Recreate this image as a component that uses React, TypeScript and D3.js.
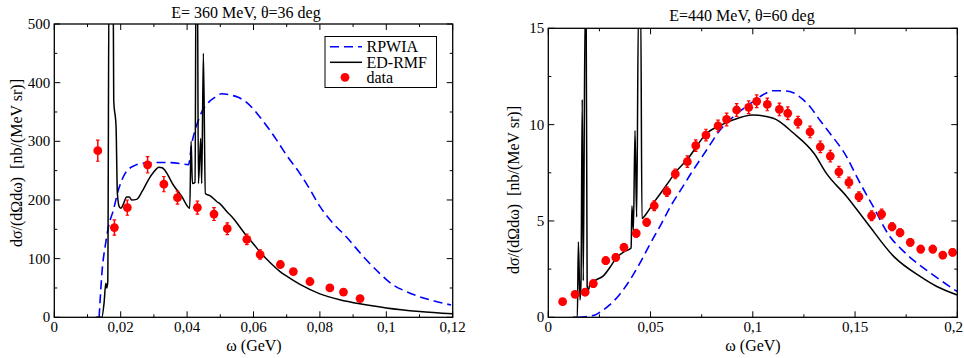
import React from "react";
import * as d3 from "d3";

// ---------- Data ----------
const leftTitle = "E= 360 MeV, θ=36 deg";
const rightTitle = "E=440 MeV, θ=60 deg";
const xLabel = "ω (GeV)";
const yLabel = "dσ/(dΩdω)  [nb/(MeV sr)]";
const legendLabels = ["RPWIA", "ED-RMF", "data"];

const leftXTicks = [0, 0.02, 0.04, 0.06, 0.08, 0.1, 0.12];
const leftXTickLabels = ["0", "0,02", "0,04", "0,06", "0,08", "0,1", "0,12"];
const leftXMinor = [0.01, 0.03, 0.05, 0.07, 0.09, 0.11];
const leftYTicks = [0, 100, 200, 300, 400, 500];
const leftYTickLabels = ["0", "100", "200", "300", "400", "500"];
const leftYMinor = [50, 150, 250, 350, 450];

const rightXTicks = [0, 0.05, 0.1, 0.15, 0.2];
const rightXTickLabels = ["0", "0,05", "0,1", "0,15", "0,2"];
const rightXMinor = [0.025, 0.075, 0.125, 0.175];
const rightYTicks = [0, 5, 10, 15];
const rightYTickLabels = ["0", "5", "10", "15"];
const rightYMinor = [2.5, 7.5, 12.5];

// left panel: RPWIA [omega, value]
const leftRPWIA: [number, number][] = [
  [0.0135, 0], [0.0145, 86], [0.0153, 120], [0.0163, 154], [0.0178, 183], [0.0193, 217],
  [0.0213, 245], [0.0243, 259], [0.0273, 263], [0.0333, 264], [0.038, 262], [0.0404, 260],
  [0.0414, 296], [0.0424, 319], [0.0434, 336], [0.0444, 350], [0.0464, 366], [0.0484, 375],
  [0.0504, 381], [0.053, 379], [0.0554, 375], [0.058, 366], [0.061, 348], [0.064, 326],
  [0.067, 302], [0.07, 276], [0.074, 245], [0.077, 218], [0.08, 189], [0.084, 160],
  [0.088, 137], [0.093, 104], [0.098, 75], [0.1021, 55], [0.106, 44], [0.11, 35],
  [0.115, 27], [0.1195, 21],
];

// left panel: ED-RMF
const leftEDRMF: [number, number][] = [
  [0.0125, 0], [0.0143, 0], [0.015, 25], [0.0155, 58], [0.0158, 50], [0.0161, 60],
  [0.0165, 600], [0.017, 600], [0.0177, 600], [0.0179, 370], [0.0186, 325], [0.019, 211],
  [0.0196, 188], [0.0201, 186], [0.0208, 193], [0.0218, 205], [0.0226, 205], [0.0233, 200],
  [0.0248, 201], [0.0265, 215], [0.0283, 234], [0.03, 248], [0.0315, 256], [0.0325, 255],
  [0.0334, 250], [0.0358, 226], [0.0384, 206], [0.0408, 186], [0.0412, 300], [0.0416, 228],
  [0.0424, 230], [0.0427, 600], [0.0431, 600], [0.0434, 228], [0.0441, 305], [0.0444, 228],
  [0.0449, 450], [0.0455, 211], [0.047, 207], [0.049, 197], [0.05, 193], [0.052, 180],
  [0.054, 168], [0.056, 153], [0.058, 138], [0.06, 125], [0.062, 111], [0.064, 99],
  [0.066, 88], [0.068, 78], [0.07, 70], [0.074, 56], [0.08, 40], [0.086, 30],
  [0.092, 23], [0.1, 16], [0.11, 10], [0.12, 6],
];

const leftDataX = [0.0131, 0.0181, 0.022, 0.0281, 0.033, 0.0371, 0.0431, 0.0481, 0.0521, 0.058, 0.062, 0.0681, 0.072, 0.077, 0.083, 0.0871, 0.0921];
const leftDataY = [284, 153, 187, 260, 227, 204, 187, 176, 151, 133, 107, 90, 78, 61, 50, 43, 32];
const leftDataErr = [18, 13, 13, 14, 13, 11, 11, 11, 10, 9, 8, 6, 5, 4, 4, 4, 4];

// right panel: RPWIA
const rightRPWIA: [number, number][] = [
  [0.0145, 0], [0.018, 0.03], [0.0228, 0.12], [0.025, 0.25], [0.03, 0.64], [0.035, 1.2],
  [0.04, 1.95], [0.045, 2.85], [0.05, 3.85], [0.055, 4.8], [0.06, 5.8], [0.065, 6.65],
  [0.07, 7.5], [0.0774, 8.68], [0.084, 9.72], [0.0905, 10.41], [0.1002, 11.19], [0.105, 11.55],
  [0.11, 11.76], [0.116, 11.75], [0.1198, 11.66], [0.124, 11.35], [0.128, 10.93], [0.133, 10.2],
  [0.1377, 9.55], [0.1459, 8.33], [0.1508, 7.3], [0.1589, 5.74], [0.1671, 4.18], [0.1725, 3.55],
  [0.1785, 2.97], [0.1883, 2.19], [0.2, 1.33],
];

// right panel: ED-RMF
const rightEDRMF: [number, number][] = [
  [0.012, 0], [0.0142, 0], [0.0147, 3.92], [0.0155, 0.9], [0.016, 1.9], [0.0166, 11.3],
  [0.0171, 1.9], [0.018, 16], [0.0185, 16], [0.019, 1.6], [0.0196, 1.4], [0.0204, 1.75],
  [0.0235, 1.95], [0.0269, 2.15], [0.0302, 2.6], [0.0334, 3.1], [0.037, 3.4], [0.0405, 3.6],
  [0.0409, 5.78], [0.0416, 4.5], [0.0424, 9.7], [0.0432, 5.2], [0.0441, 16], [0.0452, 16],
  [0.0458, 5.14], [0.0481, 5.4], [0.0513, 5.91], [0.055, 6.45], [0.0595, 7.12], [0.062, 7.5],
  [0.068, 8.2], [0.0775, 9.55], [0.085, 10.0], [0.0905, 10.25], [0.1, 10.5], [0.11, 10.33],
  [0.12, 9.55], [0.13, 8.5], [0.136, 7.47], [0.146, 6.26], [0.156, 4.88], [0.169, 3.15],
  [0.182, 2.11], [0.19, 1.6], [0.2, 1.16],
];

const rightDataX = [0.007, 0.0131, 0.018, 0.022, 0.0281, 0.033, 0.037, 0.043, 0.0481, 0.0518, 0.058, 0.0621, 0.068, 0.0721, 0.0771, 0.083, 0.0872, 0.0921, 0.098, 0.1019, 0.1071, 0.113, 0.1171, 0.1221, 0.128, 0.133, 0.1379, 0.1421, 0.147, 0.1519, 0.1581, 0.163, 0.1681, 0.172, 0.177, 0.1821, 0.188, 0.1929, 0.1977];
const rightDataY = [0.81, 1.19, 1.3, 1.75, 2.94, 3.11, 3.63, 4.36, 4.93, 5.79, 6.52, 7.44, 8.08, 8.91, 9.46, 9.93, 10.27, 10.76, 10.9, 11.21, 11.05, 10.79, 10.59, 10.13, 9.62, 8.85, 8.37, 7.55, 7.0, 6.26, 5.27, 5.36, 4.7, 4.39, 3.89, 3.54, 3.54, 3.23, 3.37];
const rightDataErr = [0.15, 0.15, 0.15, 0.2, 0.2, 0.2, 0.2, 0.2, 0.2, 0.25, 0.25, 0.25, 0.3, 0.3, 0.3, 0.3, 0.33, 0.33, 0.33, 0.33, 0.33, 0.33, 0.33, 0.3, 0.3, 0.3, 0.3, 0.28, 0.28, 0.25, 0.25, 0.25, 0.2, 0.2, 0.2, 0.2, 0.2, 0.18, 0.18];

// ---------- Drawing ----------
const FONT = "Liberation Serif, DejaVu Serif, Times New Roman, serif";
const BLUE = "#0000ff";
const RED = "#ff0000";

type PanelProps = {
  id: string;
  x0: number; x1: number; y0: number; y1: number;
  xDomain: [number, number]; yDomain: [number, number];
  xTicks: number[]; xTickLabels: string[]; xMinor: number[];
  yTicks: number[]; yTickLabels: string[]; yMinor: number[];
  rpwia: [number, number][]; edrmf: [number, number][];
  dx: number[]; dy: number[]; de: number[];
  title: string; titleX: number; titleY: number;
  yLabelX: number; yLabelY: number;
  xLabelX: number;
  legend?: boolean;
};

function Panel(p: PanelProps) {
  const xs = d3.scaleLinear().domain(p.xDomain).range([p.x0, p.x1]);
  const ys = d3.scaleLinear().domain(p.yDomain).range([p.y1, p.y0]);
  const line = d3.line<[number, number]>().x(d => xs(d[0])).y(d => ys(d[1])).curve(d3.curveMonotoneX);
  const major = 6, minor = 3;
  const txt = { fontFamily: FONT };
  return (
    <g>
      <defs>
        <clipPath id={p.id}>
          <rect x={p.x0} y={p.y0} width={p.x1 - p.x0} height={p.y1 - p.y0} />
        </clipPath>
      </defs>
      <g clipPath={`url(#${p.id})`}>
        <path d={line(p.rpwia) || ""} fill="none" stroke={BLUE} strokeWidth={1.6} strokeDasharray="9,5" />
        <path d={line(p.edrmf) || ""} fill="none" stroke="#000" strokeWidth={1.5} strokeLinejoin="round" />
        {p.dx.map((xv, i) => {
          const cx = xs(xv), cy = ys(p.dy[i]);
          const yt = ys(p.dy[i] + p.de[i]), yb = ys(p.dy[i] - p.de[i]);
          return (
            <g key={i}>
              <line x1={cx} x2={cx} y1={yt} y2={yb} stroke={RED} strokeWidth={1.5} />
              <line x1={cx - 1.8} x2={cx + 1.8} y1={yt} y2={yt} stroke={RED} strokeWidth={1.2} />
              <line x1={cx - 1.8} x2={cx + 1.8} y1={yb} y2={yb} stroke={RED} strokeWidth={1.2} />
              <circle cx={cx} cy={cy} r={4.4} fill={RED} />
            </g>
          );
        })}
      </g>
      {p.xTicks.map((t, i) => {
        const last = xs(t) + 12 > 964;
        return (
          <g key={"xt" + i}>
            <line x1={xs(t)} x2={xs(t)} y1={p.y1} y2={p.y1 - major} stroke="#000" />
            <line x1={xs(t)} x2={xs(t)} y1={p.y0} y2={p.y0 + major} stroke="#000" />
            <text x={last ? 963 : xs(t)} y={p.y1 + 15} textAnchor={last ? "end" : "middle"} fontSize={15} style={txt}>{p.xTickLabels[i]}</text>
          </g>
        );
      })}
      {p.xMinor.map((t, i) => (
        <g key={"xm" + i}>
          <line x1={xs(t)} x2={xs(t)} y1={p.y1} y2={p.y1 - minor} stroke="#000" />
          <line x1={xs(t)} x2={xs(t)} y1={p.y0} y2={p.y0 + minor} stroke="#000" />
        </g>
      ))}
      {p.yTicks.map((t, i) => (
        <g key={"yt" + i}>
          <line x1={p.x0} x2={p.x0 + major} y1={ys(t)} y2={ys(t)} stroke="#000" />
          <line x1={p.x1} x2={p.x1 - major} y1={ys(t)} y2={ys(t)} stroke="#000" />
          <text x={p.x0 - 4} y={ys(t) + 5} textAnchor="end" fontSize={15} style={txt}>{p.yTickLabels[i]}</text>
        </g>
      ))}
      {p.yMinor.map((t, i) => (
        <g key={"ym" + i}>
          <line x1={p.x0} x2={p.x0 + minor} y1={ys(t)} y2={ys(t)} stroke="#000" />
          <line x1={p.x1} x2={p.x1 - minor} y1={ys(t)} y2={ys(t)} stroke="#000" />
        </g>
      ))}
      <rect x={p.x0} y={p.y0} width={p.x1 - p.x0} height={p.y1 - p.y0} fill="none" stroke="#000" strokeWidth={1.3} />
      <text x={p.titleX} y={p.titleY} textAnchor="middle" fontSize={16} style={txt}>{p.title}</text>
      <text x={p.xLabelX} y={351} textAnchor="middle" fontSize={16} style={txt}>{xLabel}</text>
      <text transform={`translate(${p.yLabelX},${p.yLabelY}) rotate(-90)`} textAnchor="middle" fontSize={16} style={{ ...txt, whiteSpace: "pre" }}>{yLabel}</text>
      {p.legend && (
        <g fontSize={16} style={txt}>
          <rect x={325} y={36.5} width={111.5} height={51} fill="#fff" stroke="#000" strokeWidth={1} />
          <line x1={330} x2={362} y1={46.7} y2={46.7} stroke={BLUE} strokeWidth={1.6} strokeDasharray="9,5" />
          <text x={366.5} y={52}>{legendLabels[0]}</text>
          <line x1={330} x2={362} y1={62.3} y2={62.3} stroke="#000" strokeWidth={1.5} />
          <text x={366.5} y={67.5}>{legendLabels[1]}</text>
          <circle cx={345} cy={77.3} r={4.4} fill={RED} />
          <text x={366.5} y={83}>{legendLabels[2]}</text>
        </g>
      )}
    </g>
  );
}

export default function App() {
  return (
    <svg width={964} height={358} style={{ display: "block", position: "absolute", left: 0, top: 0, fontFamily: FONT }}>
      <rect x={0} y={0} width={964} height={358} fill="#fff" />
      <Panel id="clipL" x0={54.3} x1={452.7} y0={24} y1={317.3}
        xDomain={[0, 0.12]} yDomain={[0, 500]}
        xTicks={leftXTicks} xTickLabels={leftXTickLabels} xMinor={leftXMinor}
        yTicks={leftYTicks} yTickLabels={leftYTickLabels} yMinor={leftYMinor}
        rpwia={leftRPWIA} edrmf={leftEDRMF} dx={leftDataX} dy={leftDataY} de={leftDataErr}
        title={leftTitle} titleX={246} titleY={18}
        yLabelX={22} yLabelY={163} xLabelX={254} legend />
      <Panel id="clipR" x0={548.3} x1={957.3} y0={28.3} y1={317.3}
        xDomain={[0, 0.2]} yDomain={[0, 15]}
        xTicks={rightXTicks} xTickLabels={rightXTickLabels} xMinor={rightXMinor}
        yTicks={rightYTicks} yTickLabels={rightYTickLabels} yMinor={rightYMinor}
        rpwia={rightRPWIA} edrmf={rightEDRMF} dx={rightDataX} dy={rightDataY} de={rightDataErr}
        title={rightTitle} titleX={742} titleY={21}
        yLabelX={519} yLabelY={190} xLabelX={753} />
    </svg>
  );
}
